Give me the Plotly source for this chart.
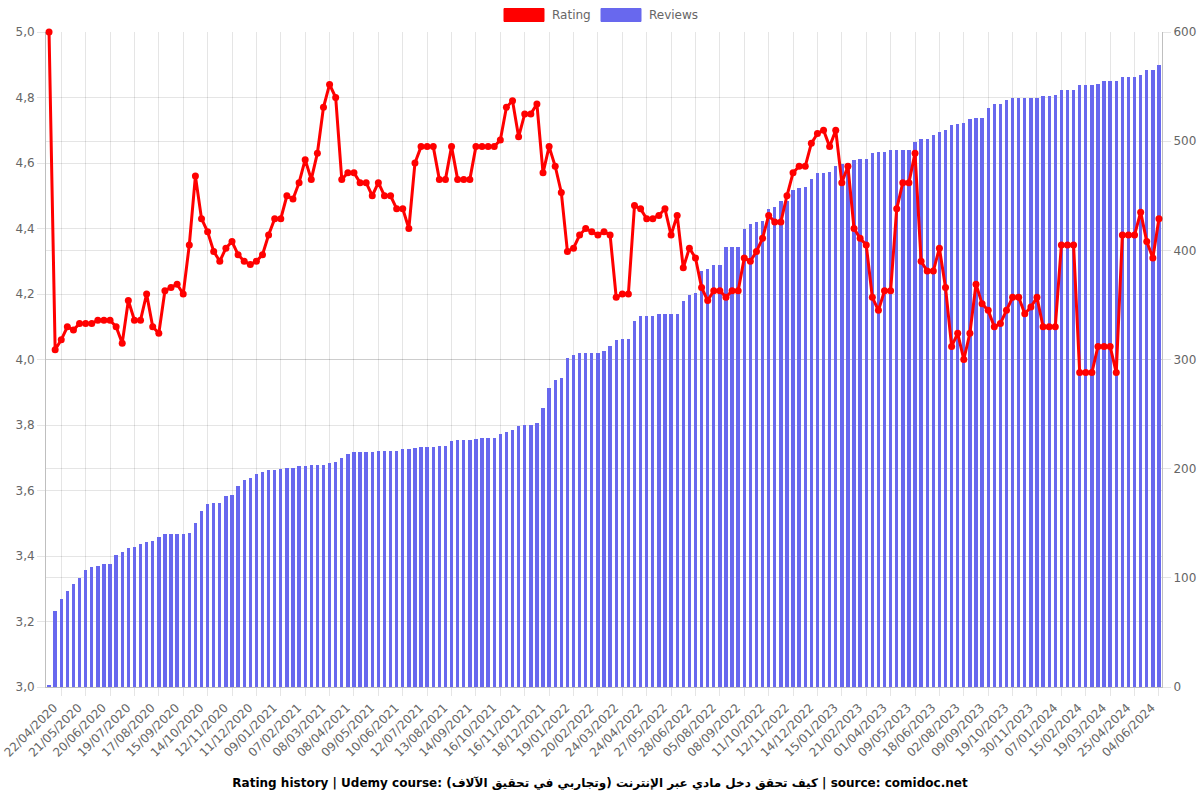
import plotly.graph_objects as go

# ---------------- data ----------------
tick_labels = [
    "22/04/2020", "21/05/2020", "20/06/2020", "19/07/2020", "17/08/2020", "15/09/2020",
    "14/10/2020", "12/11/2020", "11/12/2020", "09/01/2021", "07/02/2021", "08/03/2021",
    "08/04/2021", "09/05/2021", "10/06/2021", "12/07/2021", "13/08/2021", "14/09/2021",
    "16/10/2021", "16/11/2021", "18/12/2021", "19/01/2022", "20/02/2022", "24/03/2022",
    "24/04/2022", "27/05/2022", "28/06/2022", "05/08/2022", "08/09/2022", "11/10/2022",
    "12/11/2022", "14/12/2022", "15/01/2023", "21/02/2023", "01/04/2023", "09/05/2023",
    "18/06/2023", "02/08/2023", "09/09/2023", "19/10/2023", "30/11/2023", "07/01/2024",
    "15/02/2024", "19/03/2024", "25/04/2024", "04/06/2024",
]
label_every = 4  # one date label every 4 snapshots

rating = [
    5.00, 4.03, 4.06, 4.10, 4.09, 4.11, 4.11, 4.11, 4.12, 4.12,
    4.12, 4.10, 4.05, 4.18, 4.12, 4.12, 4.20, 4.10, 4.08, 4.21,
    4.22, 4.23, 4.20, 4.35, 4.56, 4.43, 4.39, 4.33, 4.30, 4.34,
    4.36, 4.32, 4.30, 4.29, 4.30, 4.32, 4.38, 4.43, 4.43, 4.50,
    4.49, 4.54, 4.61, 4.55, 4.63, 4.77, 4.84, 4.80, 4.55, 4.57,
    4.57, 4.54, 4.54, 4.50, 4.54, 4.50, 4.50, 4.46, 4.46, 4.40,
    4.60, 4.65, 4.65, 4.65, 4.55, 4.55, 4.65, 4.55, 4.55, 4.55,
    4.65, 4.65, 4.65, 4.65, 4.67, 4.77, 4.79, 4.68, 4.75, 4.75,
    4.78, 4.57, 4.65, 4.59, 4.51, 4.33, 4.34, 4.38, 4.40, 4.39,
    4.38, 4.39, 4.38, 4.19, 4.20, 4.20, 4.47, 4.46, 4.43, 4.43,
    4.44, 4.46, 4.38, 4.44, 4.28, 4.34, 4.31, 4.22, 4.18, 4.21,
    4.21, 4.19, 4.21, 4.21, 4.31, 4.30, 4.33, 4.37, 4.44, 4.42,
    4.42, 4.50, 4.57, 4.59, 4.59, 4.66, 4.69, 4.70, 4.65, 4.70,
    4.54, 4.59, 4.40, 4.37, 4.35, 4.19, 4.15, 4.21, 4.21, 4.46,
    4.54, 4.54, 4.63, 4.30, 4.27, 4.27, 4.34, 4.22, 4.04, 4.08,
    4.00, 4.08, 4.23, 4.17, 4.15, 4.10, 4.11, 4.15, 4.19, 4.19,
    4.14, 4.16, 4.19, 4.10, 4.10, 4.10, 4.35, 4.35, 4.35, 3.96,
    3.96, 3.96, 4.04, 4.04, 4.04, 3.96, 4.38, 4.38, 4.38, 4.45,
    4.36, 4.31, 4.43,
]

reviews = [
    2, 70, 81, 88, 94, 100, 107, 110, 111, 113,
    113, 121, 124, 127, 128, 131, 133, 134, 137, 140,
    140, 140, 140, 141, 150, 161, 168, 169, 169, 175,
    176, 184, 190, 191, 195, 197, 199, 199, 200, 201,
    201, 202, 202, 203, 203, 203, 205, 206, 210, 213,
    215, 215, 215, 215, 216, 216, 216, 216, 218, 218,
    219, 220, 220, 220, 221, 221, 225, 226, 226, 226,
    227, 228, 228, 228, 232, 234, 235, 239, 240, 240,
    242, 256, 274, 281, 283, 301, 304, 306, 306, 306,
    306, 308, 312, 318, 319, 319, 335, 340, 340, 340,
    342, 342, 342, 342, 354, 359, 361, 381, 383, 387,
    387, 403, 403, 403, 420, 424, 426, 427, 438, 440,
    445, 445, 455, 457, 458, 465, 471, 471, 472, 477,
    479, 480, 483, 484, 484, 489, 490, 490, 492, 492,
    492, 492, 499, 502, 502, 506, 508, 510, 515, 516,
    517, 520, 521, 521, 530, 534, 534, 538, 540, 540,
    540, 540, 540, 541, 541, 542, 547, 547, 547, 551,
    551, 551, 552, 555, 555, 555, 559, 559, 559, 561,
    565, 565, 570,
]

title_text = ("Rating history | Udemy course: كيف تحقق دخل مادي عبر الإنترنت "
              "(وتجاربي في تحقيق الآلاف) | source: comidoc.net")

# ---------------- figure ----------------
n = len(rating)
idx = list(range(n))
label_shift = 0.8  # visual nudge of rotated labels (in bar widths)
label_pos = [i * label_every + label_shift for i in range(len(tick_labels))]
grid_pos = [i * label_every + label_every / 2 for i in range(len(tick_labels))]

FONT = "DejaVu Sans"
GRID = "rgba(0,0,0,0.1)"
TICKFONT = dict(family=FONT, size=12, color="#666666")
RED = "#ff0000"
BLUE = "rgb(104,104,238)"

fig = go.Figure()
fig.add_trace(go.Bar(
    x=idx, y=reviews, name="Reviews", yaxis="y",
    marker=dict(color=BLUE, line=dict(width=0)), width=0.55,
    showlegend=False,
))
fig.add_trace(go.Scatter(
    x=idx, y=rating, name="Rating", yaxis="y2", mode="lines+markers",
    line=dict(color=RED, width=3), marker=dict(color=RED, size=7),
    cliponaxis=False, showlegend=False,
))

L, R, T, B = 46, 38, 32, 113
W, H = 1200, 800
pw, ph = W - L - R, H - T - B


def px(x):
    return (x - L) / pw


def py(y):
    return (H - B - y) / ph


fig.update_layout(
    template="none",
    width=W, height=H,
    margin=dict(l=L, r=R, t=T, b=B, pad=0),
    paper_bgcolor="white", plot_bgcolor="white",
    separators=",.",
    bargap=0,
    font=dict(family=FONT, size=12, color="#666666"),
    xaxis=dict(
        range=[-0.5, n - 0.5], tickmode="array", tickvals=label_pos, ticktext=tick_labels,
        tickangle=-45, tickfont=TICKFONT, showgrid=False, zeroline=False,
        ticks="outside", ticklen=8, tickcolor="rgba(0,0,0,0)",
        ticklabeloverflow="allow",
        showline=True, linecolor="rgba(0,0,0,0.25)", linewidth=1,
        minor=dict(tickmode="array", tickvals=grid_pos, showgrid=True, gridcolor=GRID,
                   gridwidth=1, ticks="outside", ticklen=8, tickcolor=GRID),
        automargin=False,
    ),
    yaxis=dict(
        side="right", range=[0, 600], dtick=100, tick0=0, tickfont=TICKFONT,
        showgrid=True, gridcolor=GRID, zeroline=False,
        ticks="outside", ticklen=8, tickcolor=GRID,
        showline=True, linecolor="rgba(0,0,0,0.25)", linewidth=1, automargin=False,
    ),
    yaxis2=dict(
        side="left", overlaying="y", range=[3, 5], dtick=0.2, tick0=3, tickformat=".1f",
        tickfont=TICKFONT, showgrid=True, gridcolor=GRID, zeroline=False,
        ticks="outside", ticklen=8, tickcolor=GRID,
        showline=True, linecolor="rgba(0,0,0,0.25)", linewidth=1, automargin=False,
    ),
    title=dict(text="<b>" + title_text + "</b>", x=0.5, xref="container", xanchor="center",
               y=1 - 783 / H, yref="container", yanchor="middle",
               font=dict(family=FONT, size=12, color="#000000")),
)

# legend drawn like the original (filled boxes + labels)
legend_items = [("Rating", RED, 504, 544, 550), ("Reviews", BLUE, 601, 641, 647)]
for name, color, x0, x1, tx in legend_items:
    fig.add_shape(type="rect", xref="paper", yref="paper",
                  x0=px(x0), x1=px(x1), y0=py(21.5), y1=py(8.5),
                  fillcolor=color, line=dict(color=color, width=1))
    fig.add_annotation(text=name, xref="paper", yref="paper", x=px(tx), y=py(15.5),
                       xanchor="left", yanchor="middle", showarrow=False,
                       font=dict(family=FONT, size=12, color="#666666"))

fig.write_html("out.html")
